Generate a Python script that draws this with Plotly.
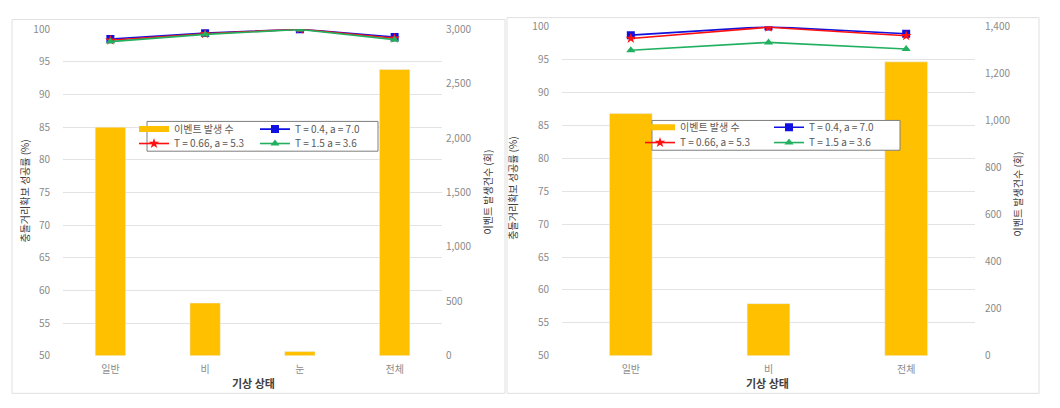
import plotly.graph_objects as go

W, H = 1060, 408
def px(x):
    return x / W
def py(y):
    return 1 - y / H

# ---------------- data ----------------
cats_left = ['일반', '비', '눈', '전체']
events_left = [2100, 485, 40, 2630]
left_T04 = [98.5, 99.4, 100.0, 98.8]
left_T066 = [98.3, 99.3, 100.0, 98.6]
left_T15 = [98.1, 99.2, 99.95, 98.4]

cats_right = ['일반', '비', '전체']
events_right = [1030, 222, 1250]
right_T04 = [98.7, 100.0, 98.9]
right_T066 = [98.2, 99.9, 98.6]
right_T15 = [96.4, 97.6, 96.6]

name_bar = '이벤트 발생 수'
name_04 = 'T = 0.4, a = 7.0'
name_066 = 'T = 0.66, a = 5.3'
name_15 = 'T = 1.5 a = 3.6'

BAR = '#FFC000'
BLUE = '#1010E0'
RED = '#FF1010'
GREEN = '#20B060'
FONT = 'Noto Sans CJK KR'
TICK = '#8a8a8a'
TITLE = '#404040'
GRID = '#e3e3e3'

fig = go.Figure()

def add_panel(cats, ev, s04, s066, s15, xa, ybar, yline, lg1, lg2, bw):
    fig.add_trace(go.Bar(x=cats, y=ev, name=name_bar, marker_color=BAR, width=bw,
                         xaxis=xa, yaxis=ybar, showlegend=False))
    # legend entry for the bars: flat gold swatch
    fig.add_trace(go.Scatter(x=[None], y=[None], name=name_bar, mode='lines',
                             line=dict(color=BAR, width=6),
                             xaxis=xa, yaxis=ybar, legend=lg1, hoverinfo='skip'))
    fig.add_trace(go.Scatter(x=cats, y=s04, name=name_04, mode='lines+markers',
                             line=dict(color=BLUE, width=1.6),
                             marker=dict(symbol='square', size=8, color=BLUE),
                             xaxis=xa, yaxis=yline, legend=lg1))
    fig.add_trace(go.Scatter(x=cats, y=s066, name=name_066, mode='lines+markers',
                             line=dict(color=RED, width=1.6),
                             marker=dict(symbol='star', size=8, color=RED),
                             xaxis=xa, yaxis=yline, legend=lg2))
    fig.add_trace(go.Scatter(x=cats, y=s15, name=name_15, mode='lines+markers',
                             line=dict(color=GREEN, width=1.6),
                             marker=dict(symbol='triangle-up', size=8, color=GREEN),
                             xaxis=xa, yaxis=yline, legend=lg2))

add_panel(cats_left, events_left, left_T04, left_T066, left_T15, 'x', 'y2', 'y', 'legend', 'legend2', 0.32)
add_panel(cats_right, events_right, right_T04, right_T066, right_T15, 'x2', 'y4', 'y3', 'legend3', 'legend4', 0.31)

tickfont = dict(family=FONT, size=10, color=TICK)

def leg(x, y, ew):
    return dict(orientation='h', x=px(x), xanchor='left', y=py(y), yanchor='middle',
                bgcolor='rgba(0,0,0,0)', borderwidth=0,
                font=dict(family=FONT, size=10, color='#595959'),
                entrywidth=ew, entrywidthmode='pixels', itemwidth=30,
                tracegroupgap=0, itemclick=False)

fig.update_layout(
    width=W, height=H, margin=dict(l=0, r=0, t=0, b=0),
    paper_bgcolor='white', plot_bgcolor='white',
    font=dict(family=FONT, size=10, color=TITLE),
    barmode='overlay', hovermode=False,
    xaxis=dict(domain=[px(63), px(442)], anchor='y', showgrid=False, showline=False,
               ticks='', tickfont=tickfont, ticklabelstandoff=6),
    yaxis=dict(domain=[py(361), py(21)], range=[50, 100], dtick=5, showgrid=True,
               gridcolor=GRID, zeroline=False, showline=False, ticks='',
               tickfont=tickfont, ticklabelstandoff=12, anchor='x'),
    yaxis2=dict(overlaying='y', side='right', anchor='x', range=[0, 3000], dtick=500,
                tickformat=',', showgrid=False, zeroline=False, showline=False, ticks='',
                tickfont=tickfont, ticklabelstandoff=3),
    xaxis2=dict(domain=[px(562), px(975)], anchor='y3', showgrid=False, showline=False,
                ticks='', tickfont=tickfont, ticklabelstandoff=6),
    yaxis3=dict(domain=[py(361), py(18.3)], range=[50, 100], dtick=5, showgrid=True,
                gridcolor=GRID, zeroline=False, showline=False, ticks='',
                tickfont=tickfont, ticklabelstandoff=12, anchor='x2'),
    yaxis4=dict(overlaying='y3', side='right', anchor='x2', range=[0, 1400], dtick=200,
                tickformat=',', showgrid=False, zeroline=False, showline=False, ticks='',
                tickfont=tickfont, ticklabelstandoff=9),
    legend=leg(134, 125, 76),
    legend2=leg(134, 140, 76),
    legend3=leg(640, 123, 84),
    legend4=leg(640, 139, 84),
)

shapes = [
    # panel frames
    dict(type='rect', xref='paper', yref='paper', x0=px(12), x1=px(505), y0=py(400), y1=py(11),
         line=dict(color='#e0e0e0', width=1), fillcolor='rgba(0,0,0,0)', layer='below'),
    dict(type='rect', xref='paper', yref='paper', x0=px(507), x1=px(1039), y0=py(400), y1=py(9),
         line=dict(color='#e0e0e0', width=1), fillcolor='rgba(0,0,0,0)', layer='below'),
    # legend boxes
    dict(type='rect', xref='paper', yref='paper', x0=px(147), x1=px(378), y0=py(148), y1=py(117),
         line=dict(color='#7f7f7f', width=1), fillcolor='white', layer='above'),
    dict(type='rect', xref='paper', yref='paper', x0=px(652), x1=px(900), y0=py(147), y1=py(116),
         line=dict(color='#7f7f7f', width=1), fillcolor='white', layer='above'),
]
fig.update_layout(shapes=shapes)

ann = [
    dict(text='충돌거리확보 성공률 (%)', x=px(25), y=py(190), textangle=-90,
         font=dict(family=FONT, size=10, color=TITLE)),
    dict(text='이벤트 발생건수 (회)', x=px(488), y=py(191), textangle=-90,
         font=dict(family=FONT, size=10, color=TITLE)),
    dict(text='<b>기상 상태</b>', x=px(253), y=py(389),
         font=dict(family=FONT, size=11, color=TITLE)),
    dict(text='충돌거리확보 성공률 (%)', x=px(513), y=py(187), textangle=-90,
         font=dict(family=FONT, size=10, color=TITLE)),
    dict(text='이벤트 발생건수 (회)', x=px(1017), y=py(193), textangle=-90,
         font=dict(family=FONT, size=10, color=TITLE)),
    dict(text='<b>기상 상태</b>', x=px(767), y=py(389),
         font=dict(family=FONT, size=11, color=TITLE)),
]
for a in ann:
    a.update(xref='paper', yref='paper', showarrow=False, xanchor='center', yanchor='middle')
fig.update_layout(annotations=ann)

fig.write_html('out.html', include_plotlyjs=True,
               config={'displayModeBar': False, 'staticPlot': True},
               post_script="document.body.style.margin='0';document.body.style.overflow='hidden';")
